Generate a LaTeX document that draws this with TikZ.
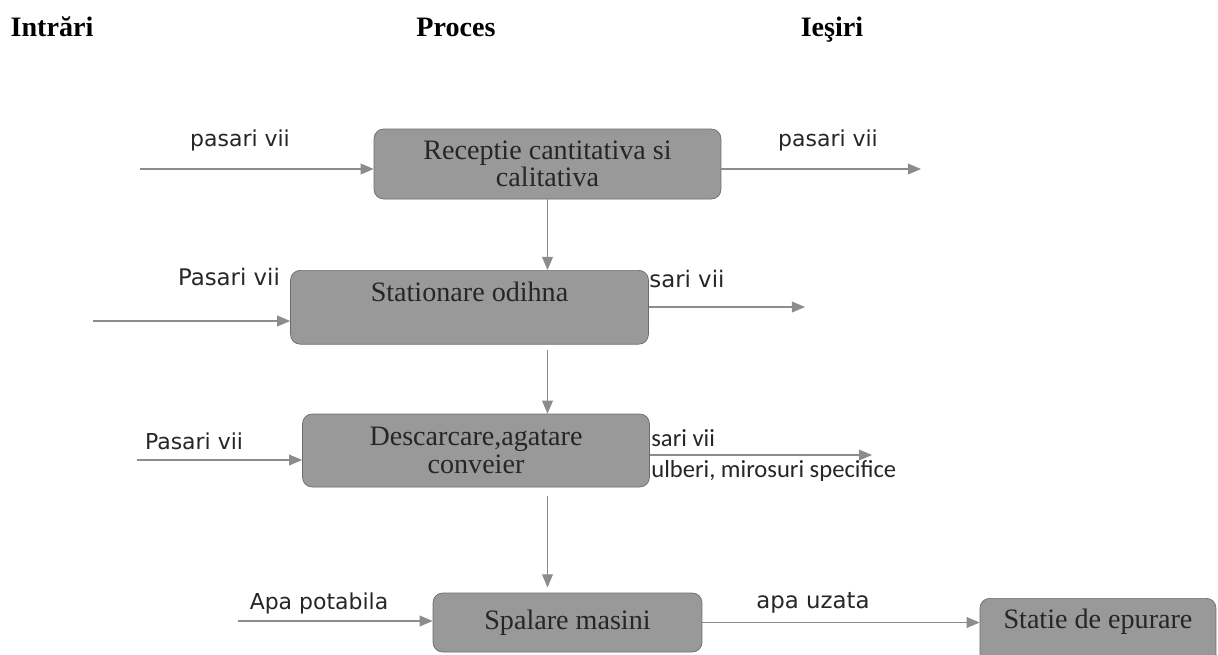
\documentclass[tikz,border=0pt]{standalone}
\usepackage{fontspec}
\setmainfont{Liberation Serif}
\newfontfamily\dejavu{DejaVu Sans}
\newfontfamily\carlito{Carlito}
\usepackage{tikz}
\usetikzlibrary{shapes, arrows}

\begin{document}
\begin{tikzpicture}[x=0.02cm, y=-0.02cm,
    proc/.style={draw=gray!85!black, fill=black!40, rounded corners=5.5pt, align=center,
      text=black!85, font=\fontsize{16}{15.5}\selectfont, inner sep=0pt},
    flow/.style={->, >=triangle 45, draw=gray!90, line width=0.7pt},
    lbl/.style={font=\dejavu\fontsize{12.5}{14}\selectfont, text=black!85},
    cal/.style={font=\carlito\fontsize{14}{16}\selectfont, text=black!85, anchor=west, inner sep=0pt},
    head/.style={font=\bfseries\fontsize{16}{18}\selectfont, anchor=base}]
    \useasboundingbox (0,0) rectangle (1218,654);

    % column titles
    \node[head] (intr) at (52,36) {Intrări};
    \node[head] (proc) at (456,36) {Proces};
    \node[head] (iesi) at (832,36) {Ieşiri};

    % process boxes
    \node[proc, minimum width=6.94cm, minimum height=1.4cm] (recv) at (547.5,164) {Receptie cantitativa si\\calitativa};
    \node[proc, anchor=north, minimum width=7.16cm, text height=11pt, text depth=17.8pt, inner ysep=6.6pt] (stat) at (469.5,270) {Stationare odihna};
    \node[proc, minimum width=6.94cm, minimum height=1.46cm] (desc) at (476,450.5) {Descarcare,agatare\\conveier};
    \node[proc, minimum width=5.38cm, minimum height=1.18cm] (spal) at (567.5,622.5) {Spalare masini};
    \node[proc, anchor=north, minimum width=4.72cm, text height=11pt, text depth=15.6pt, inner ysep=6.4pt] (epur) at (1098,598) {Statie de epurare};

    % free ends of the side arrows
    \coordinate (in1) at (140,169);
    \coordinate (out1) at (921,169);
    \coordinate (in2) at (93,321);
    \coordinate (out2) at (805,307);
    \coordinate (in3) at (137,460);
    \coordinate (out3) at (872,455);
    \coordinate (in4) at (238,621);

    % inputs / outputs
    \draw[flow] (in1) -- (in1 -| recv.west);
    \draw[flow] (recv.east |- out1) -- (out1);
    \node[lbl] (p1) at (240,140) {pasari vii};
    \node[lbl] (p2) at (828,140) {pasari vii};

    \draw[flow] (in2) -- (in2 -| stat.west);
    \draw[flow] (stat.east |- out2) -- (out2);
    \node[lbl, font=\dejavu\fontsize{13}{15}\selectfont] (p3) at (229,277) {Pasari vii};
    \node[lbl, font=\dejavu\fontsize{13}{15}\selectfont, anchor=west, inner sep=0pt] (p4) at (649,279) {sari vii};

    \draw[flow] (in3) -- (in3 -| desc.west);
    \draw[flow] (desc.east |- out3) -- (out3);
    \node[lbl] (p5) at (194,441) {Pasari vii};
    \node[cal] (p6) at (651,438) {sari vii};
    \node[cal] (p7) at (651,471) {ulberi, mirosuri specifice};

    \draw[flow] (in4) -- (in4 -| spal.west);
    \draw[flow] (spal.east) -- (spal.east -| epur.west);
    \node[lbl] (a1) at (319,603) {Apa potabila};
    \node[lbl, font=\dejavu\fontsize{13}{15}\selectfont] (a2) at (813,603) {apa uzata};

    % process flow
    \draw[flow] (recv.south) -- (recv.south |- stat.north);
    \draw[flow, shorten <=3pt] (recv.south |- stat.south) -- (recv.south |- desc.north);
    \draw[flow, shorten <=5pt, shorten >=3pt] (recv.south |- desc.south) -- (recv.south |- spal.north);
\end{tikzpicture}
\end{document}
